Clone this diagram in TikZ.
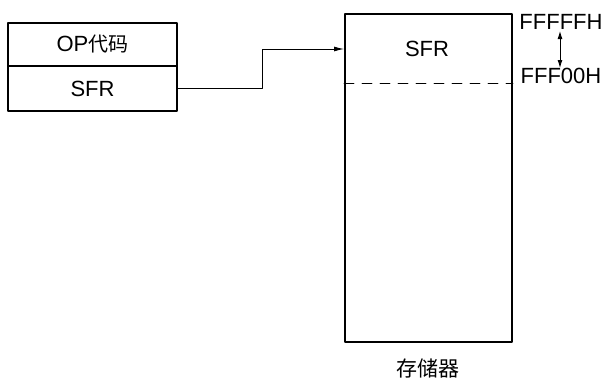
\documentclass[tikz,border=0pt]{standalone}
\usepackage{fontspec}
\setmainfont{Liberation Sans}
\newfontfamily\cjk{Noto Sans CJK SC}
\usetikzlibrary{arrows.meta,positioning}

\begin{document}
\begin{tikzpicture}[
  x=1pt,y=-1pt,
  line cap=round,line join=round,
  >={Latex[length=10pt,width=5pt]},
  field/.style={draw,line width=2pt,minimum width=169pt,inner sep=0pt,
    font=\fontsize{22}{24}\selectfont},
  memory/.style={draw,line width=2pt,minimum width=167pt,minimum height=328pt,inner sep=0pt},
  lbl/.style={font=\fontsize{22}{24}\selectfont,inner sep=0pt},
  link/.style={line width=0.9pt}
]
  \useasboundingbox (0,0) rectangle (603,380);

  % Instruction fields
  \node[field,minimum height=43pt] (op)  at (92.5,44.5) {OP{\cjk\fontsize{20}{24}\selectfont 代码}};
  \node[field,minimum height=45pt] (sfr) at (92.5,88.5) {SFR};

  % Memory block
  \node[memory] (mem) at (428.5,178) {};
  \node[lbl] (memsfr) at (427,49) {SFR};
  \coordinate (dl) at (mem.west |- 0,83);
  \coordinate (dr) at (mem.east |- 0,83);
  \draw[link,dash pattern=on 10pt off 8pt] (dl) -- (dr);
  \node[lbl,font=\cjk\fontsize{21}{24}\selectfont] (memname) at (428,368) {存储器};

  % Address range
  \node[lbl] (top) at (561,22) {FFFFFH};
  \node[lbl] (bot) at (561,76) {FFF00H};
  \coordinate (ta) at (560,31);
  \coordinate (ba) at (560,68);
  \draw[link,{Latex[length=8pt,width=5pt]}-{Latex[length=8pt,width=5pt]}] (ta) -- (ba);

  % Pointer
  \coordinate (bend) at (262,88);
  \draw[link,->] (sfr.east |- bend) -- (bend) |- (memsfr -| mem.west);
\end{tikzpicture}
\end{document}
